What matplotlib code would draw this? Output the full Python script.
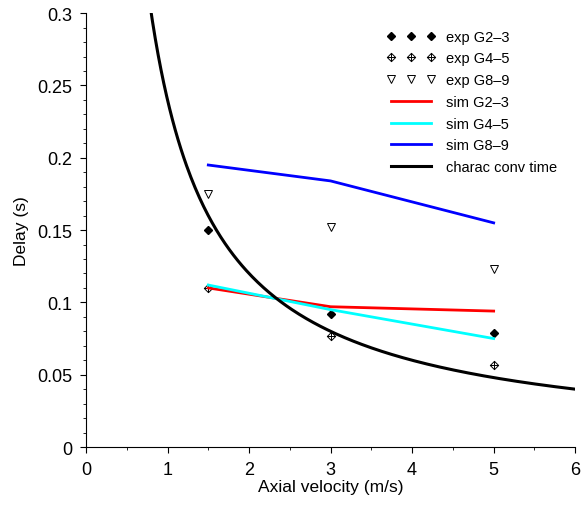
import numpy as np
import matplotlib
matplotlib.use("Agg")
from matplotlib import pyplot as plt
from matplotlib.path import Path
from matplotlib.ticker import MultipleLocator

plt.rcParams['font.family'] = ['Liberation Sans', 'DejaVu Sans']

# velocities (m/s)
v_exp = [1.5, 3, 5]
exp_g23 = [0.150, 0.092, 0.079]
exp_g45 = [0.110, 0.077, 0.057]
exp_g89 = [0.175, 0.152, 0.123]

v_sim = [1.5, 3, 5]
sim_g23 = [0.110, 0.097, 0.094]
sim_g45 = [0.112, 0.095, 0.075]
sim_g89 = [0.195, 0.184, 0.155]

# characteristic convective time = L / v
L_conv = 0.24
v_conv = np.linspace(0.78, 6, 300)

# diamond with a cross inside
dcross = Path([(0, 1), (1, 0), (0, -1), (-1, 0), (0, 1),
               (0, 1), (0, -1), (-1, 0), (1, 0)],
              [Path.MOVETO, Path.LINETO, Path.LINETO, Path.LINETO, Path.CLOSEPOLY,
               Path.MOVETO, Path.LINETO, Path.MOVETO, Path.LINETO])

fig = plt.figure(figsize=(5.81, 5.06), dpi=100)
ax = fig.add_axes([0.148, 0.1146, 0.842, 0.8574])

ax.plot(v_exp, exp_g23, ls='none', marker='D', ms=4.5, color='k', label='exp G2\u20133')
ax.plot(v_exp, exp_g45, ls='none', marker=dcross, ms=6, mfc='none', mec='k', mew=0.7,
        label='exp G4\u20135')
ax.plot(v_exp, exp_g89, ls='none', marker='v', ms=6, mfc='none', mec='k', mew=0.7,
        label='exp G8\u20139')
ax.plot(v_sim, sim_g23, color='#ff0000', lw=2, label='sim G2\u20133')
ax.plot(v_sim, sim_g45, color='#00ffff', lw=2, label='sim G4\u20135')
ax.plot(v_sim, sim_g89, color='#0000ff', lw=2, label='sim G8\u20139')
ax.plot(v_conv, L_conv / v_conv, color='k', lw=2.2, label='charac conv time')

ax.set_xlim(0, 6)
ax.set_ylim(0, 0.3)
ax.xaxis.set_major_locator(MultipleLocator(1))
ax.xaxis.set_minor_locator(MultipleLocator(0.5))
ax.yaxis.set_minor_locator(MultipleLocator(0.01))
ax.set_yticks([0, 0.05, 0.1, 0.15, 0.2, 0.25, 0.3])
ax.set_yticklabels(['0', '0.05', '0.1', '0.15', '0.2', '0.25', '0.3'])
ax.spines['top'].set_visible(False)
ax.spines['right'].set_visible(False)
ax.tick_params(which='both', direction='out', labelsize=13, pad=6)
ax.tick_params(which='major', length=4)
ax.tick_params(which='minor', length=2.5)
ax.set_xlabel('Axial velocity (m/s)', fontsize=12.5, labelpad=1)
ax.set_ylabel('Delay (s)', fontsize=12.5, labelpad=6)

ax.legend(loc='upper right', bbox_to_anchor=(0.99, 0.992), frameon=False, numpoints=3,
          fontsize=10.5, handlelength=3.35, handletextpad=0.7, labelspacing=0.53)

fig.savefig('out.png', dpi=100)
